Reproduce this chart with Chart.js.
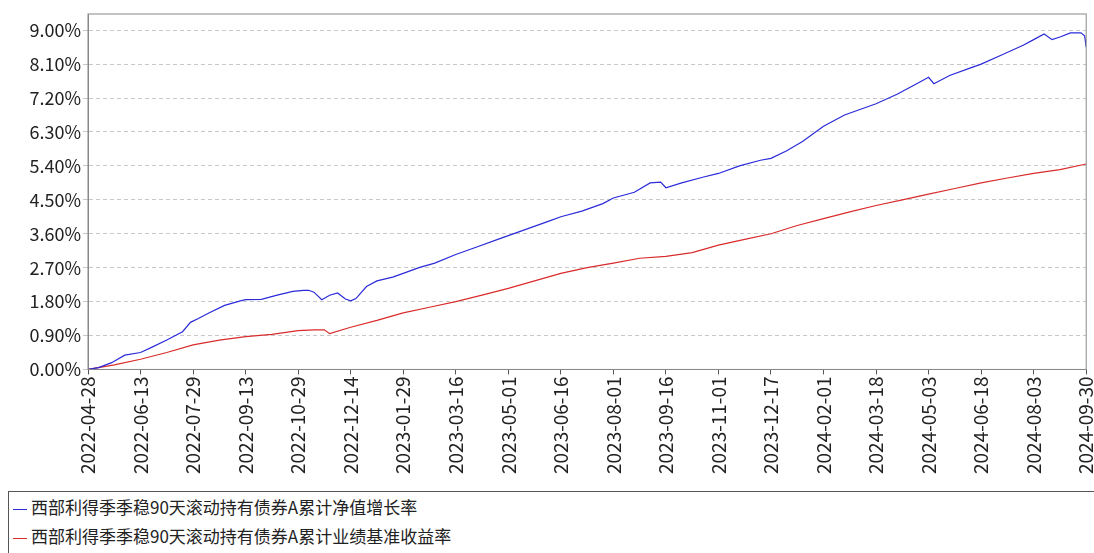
<!DOCTYPE html>
<html>
<head>
<meta charset="utf-8">
<script src="https://cdn.jsdelivr.net/npm/chart.js@4/dist/chart.umd.min.js"></script>
<style>
  body { margin: 0; background: #fff; font-family: "Noto Sans CJK SC", sans-serif; overflow: hidden; }
  #wrap { position: relative; width: 1094px; height: 553px; overflow: hidden; }
  #legend { position: absolute; left: 8px; top: 491px; width: 1090px; height: 62px; border: 1px solid #555; border-right: none; border-bottom: none; box-sizing: border-box; font-size: 17px; color: #222; }
  .row { height: 29px; line-height: 29px; padding-left: 4px; }
  .sw { display: inline-block; width: 14px; height: 0; border-top: 1px solid; vertical-align: middle; margin-right: 4px; }
</style>
</head>
<body>
<div id="wrap">
  <canvas id="c" width="1111" height="476"></canvas>
  <div id="legend">
    <div class="row"><span class="sw" style="border-color:#2b2bd9"></span>西部利得季季稳90天滚动持有债券A累计净值增长率</div>
    <div class="row"><span class="sw" style="border-color:#d92b2b"></span>西部利得季季稳90天滚动持有债券A累计业绩基准收益率</div>
  </div>
</div>
<script>
// Tick labels on the x axis (evenly spaced)
const dateLabels = ['2022-04-28','2022-06-13','2022-07-29','2022-09-13','2022-10-29','2022-12-14',
  '2023-01-29','2023-03-16','2023-05-01','2023-06-16','2023-08-01','2023-09-16','2023-11-01',
  '2023-12-17','2024-02-01','2024-03-18','2024-05-03','2024-06-18','2024-08-03','2024-09-30'];
const yTicks = [0, 0.9, 1.8, 2.7, 3.6, 4.5, 5.4, 6.3, 7.2, 8.1, 9.0];

// Positions in label units (0..19), values in %
const navX = [0, 0.2, 0.45, 0.7, 1.0, 1.2, 1.5, 1.8, 1.95, 2.1, 2.3, 2.6, 2.9, 3.0, 3.3, 3.6, 3.9, 4.1, 4.2, 4.3, 4.45, 4.6, 4.75, 4.9, 5.0, 5.1, 5.3, 5.5, 5.8,
  6.0, 6.3, 6.6, 7.0, 7.4, 7.8, 8.0, 8.4, 8.8, 9.0, 9.4, 9.8, 10.0, 10.4, 10.7, 10.9, 11.0, 11.3, 11.7, 12.0, 12.4, 12.8, 13.0, 13.3, 13.6,
  14.0, 14.4, 14.8, 15.0, 15.4, 15.8, 16.0, 16.1, 16.4, 16.8, 17.0, 17.4, 17.8, 18.0, 18.2, 18.35, 18.5, 18.7, 18.9, 18.97, 19.0];
const navY = [0, 0.05, 0.18, 0.38, 0.45, 0.58, 0.78, 1.0, 1.25, 1.35, 1.5, 1.7, 1.82, 1.85, 1.86, 1.97, 2.07, 2.1, 2.1, 2.05, 1.85, 1.97, 2.03, 1.87, 1.82, 1.88, 2.2, 2.35, 2.45,
  2.55, 2.7, 2.82, 3.05, 3.25, 3.45, 3.55, 3.75, 3.95, 4.05, 4.2, 4.4, 4.55, 4.7, 4.95, 4.97, 4.82, 4.95, 5.1, 5.2, 5.4, 5.55, 5.6, 5.8, 6.05,
  6.45, 6.75, 6.95, 7.05, 7.3, 7.6, 7.75, 7.58, 7.8, 8.0, 8.1, 8.35, 8.6, 8.75, 8.9, 8.75, 8.82, 8.93, 8.93, 8.85, 8.55];
const benchX = [0, 0.5, 1.0, 1.5, 2.0, 2.5, 3.0, 3.5, 4.0, 4.3, 4.5, 4.6, 5.0, 5.5, 6.0, 6.5, 7.0, 7.5, 8.0, 8.5, 9.0, 9.5, 10.0, 10.5, 11.0, 11.5,
  12.0, 12.5, 13.0, 13.5, 14.0, 14.5, 15.0, 15.5, 16.0, 16.5, 17.0, 17.5, 18.0, 18.5, 19.0];
const benchY = [0, 0.12, 0.27, 0.45, 0.65, 0.78, 0.87, 0.93, 1.03, 1.05, 1.05, 0.95, 1.12, 1.3, 1.5, 1.65, 1.8, 1.97, 2.15, 2.35, 2.55, 2.7, 2.82, 2.95, 3.0, 3.1,
  3.3, 3.45, 3.6, 3.82, 4.0, 4.18, 4.35, 4.5, 4.65, 4.8, 4.95, 5.08, 5.2, 5.3, 5.45];

const navPts = navX.map((x, i) => ({ x: x, y: navY[i] }));
const benchPts = benchX.map((x, i) => ({ x: x, y: benchY[i] }));

const font = { family: '"Noto Sans CJK SC", sans-serif', size: 19 };

new Chart(document.getElementById('c'), {
    type: 'line',
    data: {
        datasets: [
            { data: navPts, borderColor: '#2b2bd9', borderWidth: 1.2, pointRadius: 0, tension: 0 },
            { data: benchPts, borderColor: '#d92b2b', borderWidth: 1.2, pointRadius: 0, tension: 0 },
        ],
    },
    options: {
        responsive: false,
        animation: false,
        layout: { padding: { top: 14, right: 0, left: 0 } },
        plugins: { legend: { display: false }, tooltip: { enabled: false } },
        scales: {
            x: {
                type: 'linear', min: 0, max: 19,
                afterBuildTicks: (axis) => { axis.ticks = dateLabels.map((_, i) => ({ value: i })); },
                ticks: { callback: (v) => dateLabels[v], maxRotation: 90, minRotation: 90, color: '#222', font: font, autoSkip: false, padding: 2 },
                grid: { display: true, drawOnChartArea: false, color: '#555', tickLength: 5 },
                border: { color: '#888' },
            },
            y: {
                min: 0, max: 9.43,
                afterBuildTicks: (axis) => { axis.ticks = yTicks.map(v => ({ value: v })); },
                afterFit: (axis) => { axis.width = 88; },
                ticks: { callback: (v) => v.toFixed(2) + '%', color: '#222', font: { family: font.family, size: 18 }, padding: 2 },
                grid: { color: '#c8c8c8', tickLength: 5 },
                border: { color: '#888', dash: [4, 3] },
            },
        },
    },
    plugins: [{
        id: 'frame',
        afterDraw(chart) {
            const { ctx, chartArea: a } = chart;
            ctx.save();
            ctx.strokeStyle = '#888';
            ctx.strokeRect(a.left, a.top, a.right - a.left, a.bottom - a.top);
            ctx.restore();
        },
    }],
});
</script>
</body>
</html>
